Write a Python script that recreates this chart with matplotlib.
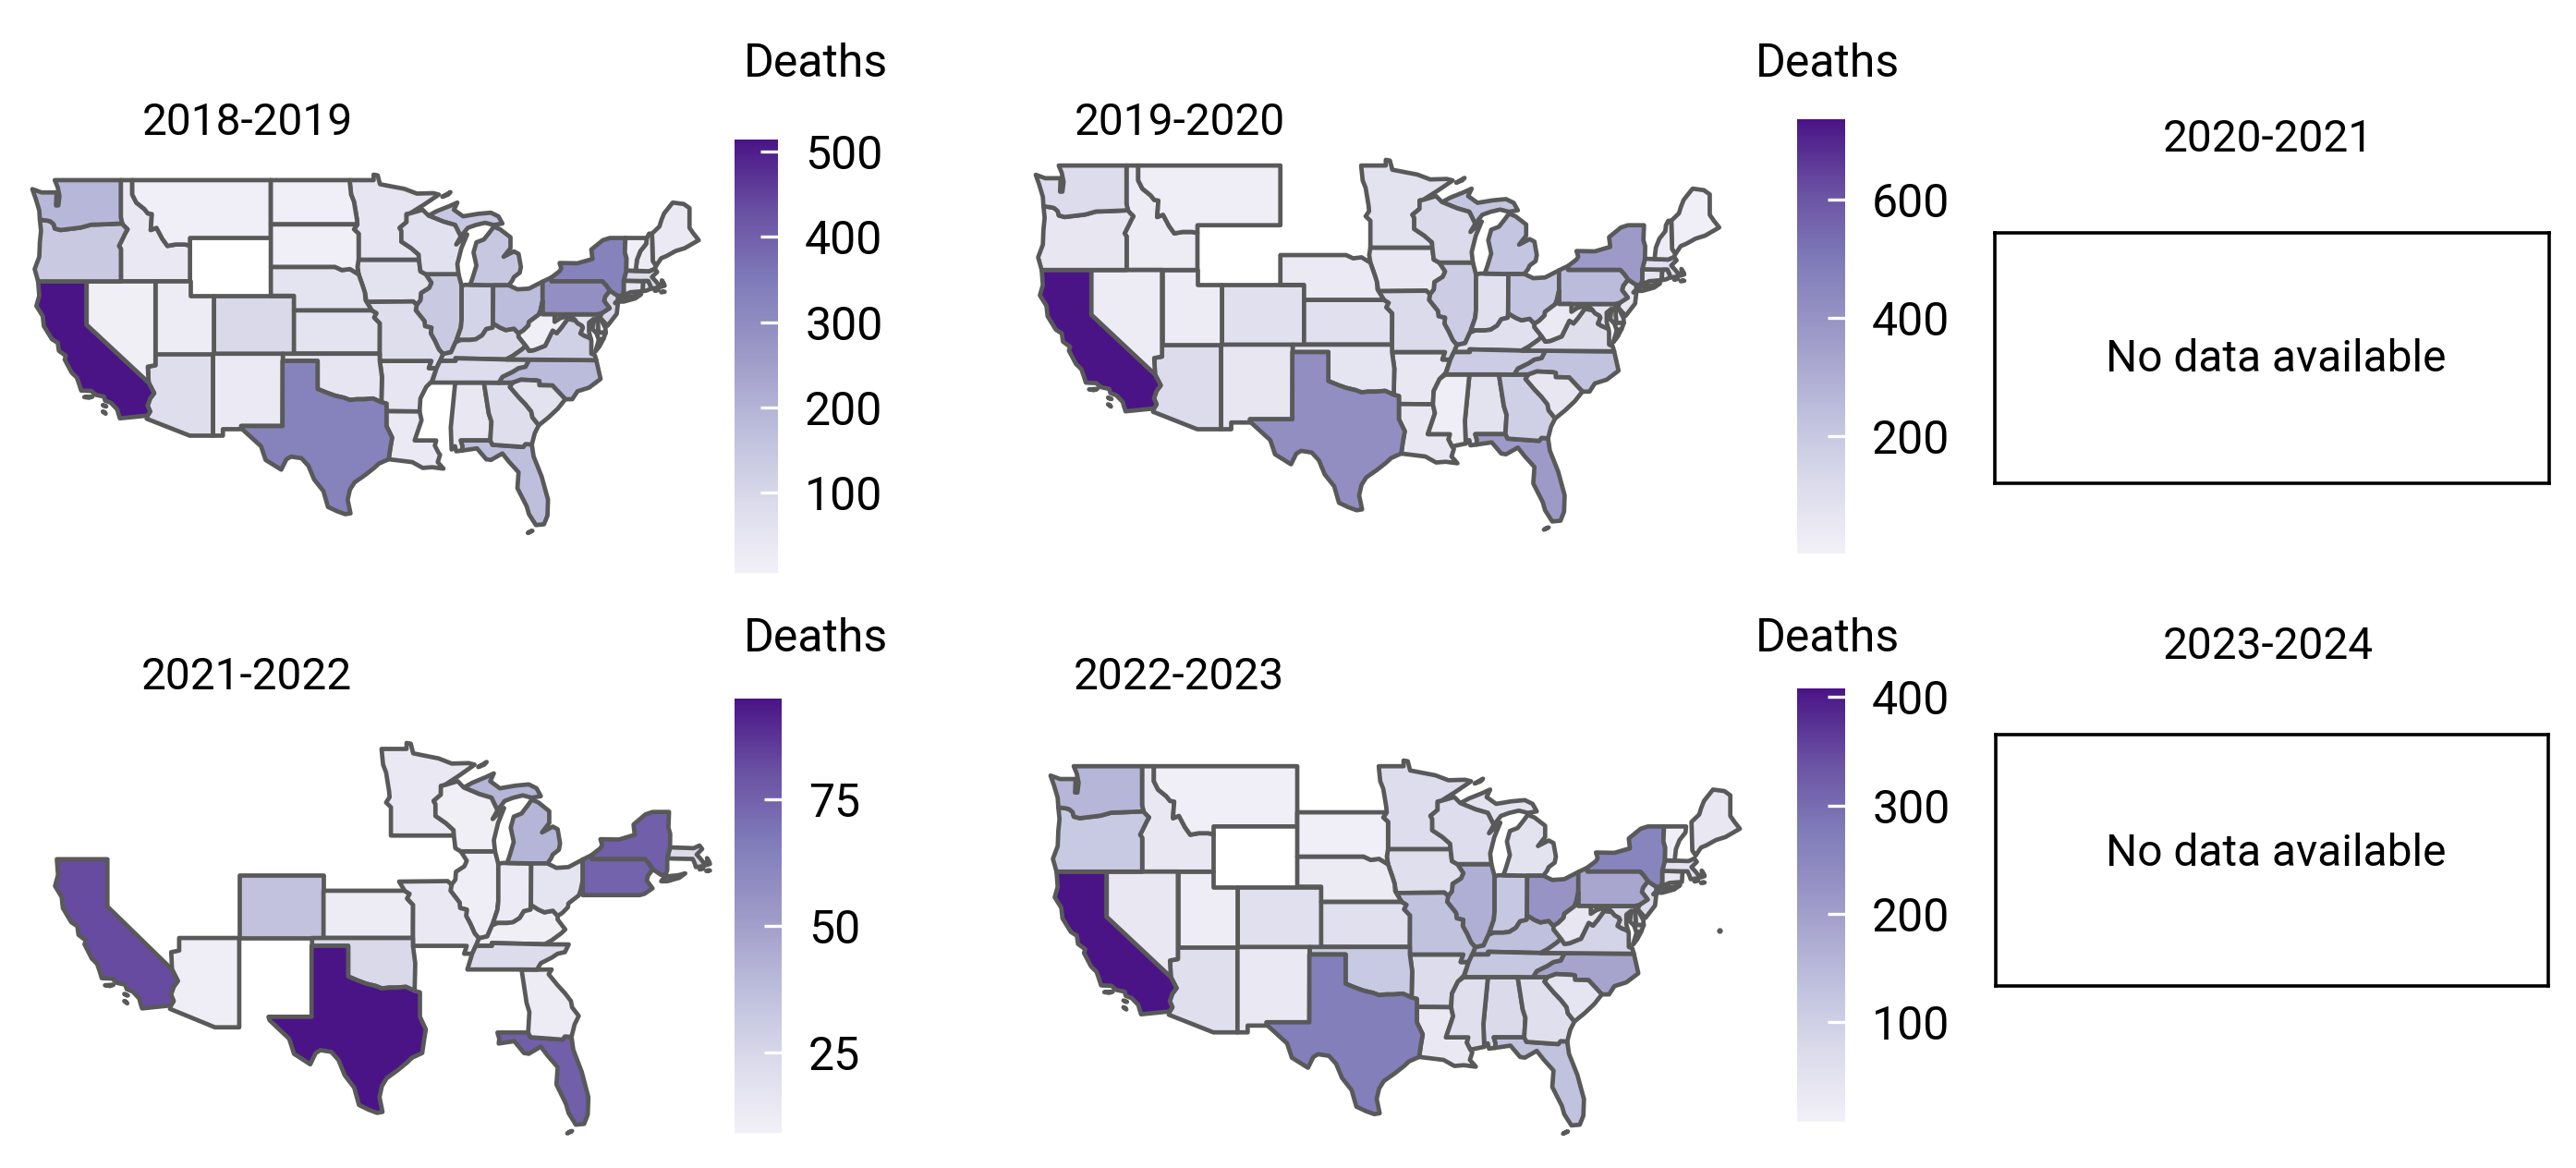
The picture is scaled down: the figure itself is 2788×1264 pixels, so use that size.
"""Heat-related deaths by state, one choropleth per season."""

import matplotlib

matplotlib.use("Agg")
import matplotlib.pyplot as plt
import numpy as np
from matplotlib.cm import ScalarMappable
from matplotlib.colors import LinearSegmentedColormap, Normalize

W, H = 2788, 1264
plt.rcParams["font.family"] = ["Roboto", "DejaVu Sans"]

PURPLES = ["#f2f0f7", "#dadaeb", "#bcbddc", "#9e9ac8", "#807dba", "#6a51a3", "#4a1486"]
EDGE = "#595959"

nan = np.nan
CODES = ["AL", "AZ", "AR", "CA", "CO", "CT", "DE", "FL", "GA", "ID", "IL", "IN", "IA", "KS", "KY", "LA",
         "ME", "MD", "MA", "MI", "MN", "MS", "MO", "MT", "NE", "NV", "NH", "NJ", "NM", "NY", "NC", "ND",
         "OH", "OK", "OR", "PA", "RI", "SC", "SD", "TN", "TX", "UT", "VT", "VA", "WA", "WV", "WI", "WY"]

deaths_2018 = [40, 75, 50, 514, 95, 45, 30, 170, 75, 35, 140, 110, 60, 55, 95, 30,
               30, 60, 90, 145, 50, nan, 75, 12, 55, 10, 25, 100, 30, 330, 178, 12,
               175, 50, 140, 290, 60, 60, 12, 80, 330, 25, 12, 120, 190, 12, 65, nan]
deaths_2019 = [80, 115, 50, 736, 90, 70, 40, 370, 170, 25, 180, 90, 50, 90, 90, 50,
               15, 70, 90, 215, 80, 20, 122, 20, 40, 30, 25, 60, 60, 368, 220, nan,
               215, 70, 60, 250, 60, 60, nan, 180, 420, 30, nan, 100, 115, 40, 122, nan]
deaths_2021 = [nan, 11, nan, 82, 35, nan, nan, 76, 12, nan, 11, 13, nan, 12, 10, nan,
               nan, nan, 23, 41, 14, nan, 14, nan, nan, nan, nan, nan, nan, 76, nan, nan,
               17, 24, nan, 75, nan, nan, nan, 22, 95, nan, nan, nan, nan, nan, 10, nan]
deaths_2022 = [75, 60, 70, 408, 55, 40, 40, 130, 60, 35, 170, 120, 60, 55, 135, 30,
               35, 70, 50, 50, 65, 60, 130, 15, 25, 35, nan, 70, 30, 255, 190, nan,
               225, 115, 115, 185, nan, 45, 15, 120, 270, 20, 15, 90, 155, 40, 65, nan]

TICKS_2018 = [100, 200, 300, 400, 500]
TICKS_2019 = [200, 400, 600]
TICKS_2021 = [25, 50, 75]
TICKS_2022 = [100, 200, 300, 400]

STRAY_POINT = (-68.7, 38.1)

# rough state outlines, lon/lat
SHAPES = {
    "WA": [[(-124.7, 48.38), (-123.9, 48.15), (-123.1, 48.15), (-122.6, 48.15), (-122.65, 47.25), (-122.45, 47.25),
            (-122.35, 47.9), (-122.5, 48.5), (-122.76, 49), (-117.04, 49), (-117.04, 46.42), (-116.92, 46),
            (-119, 45.93), (-119.6, 45.92), (-120.5, 45.72), (-121.2, 45.65), (-122.25, 45.55), (-122.75, 45.65),
            (-122.85, 45.95), (-123.15, 46.15), (-123.4, 46.2), (-124.05, 46.27), (-124.1, 46.9), (-124.4, 47.7)]],
    "OR": [[(-124.05, 46.27), (-123.4, 46.2), (-123.15, 46.15), (-122.85, 45.95), (-122.75, 45.65), (-122.25, 45.55),
            (-121.2, 45.65), (-120.5, 45.72), (-119.6, 45.92), (-119, 45.93), (-116.92, 46), (-116.78, 45.85),
            (-116.46, 45.6), (-116.67, 45.3), (-116.85, 45), (-117.2, 44.45), (-117.03, 44.25), (-117.03, 42),
            (-120, 42), (-124.2, 42), (-124.5, 42.85), (-124.1, 43.7), (-124.05, 44.7), (-123.95, 45.5)]],
    "ID": [[(-117.04, 49), (-116.05, 49), (-116.05, 48), (-115.7, 47.45), (-115, 47), (-114.7, 46.7), (-114.35, 46.65),
            (-114.45, 45.55), (-113.95, 45.7), (-113.45, 44.95), (-113, 44.45), (-112.3, 44.55), (-111.5, 44.55),
            (-111.05, 44.48), (-111.05, 42), (-114.04, 42), (-117.03, 42), (-117.03, 44.25), (-117.2, 44.45),
            (-116.85, 45), (-116.67, 45.3), (-116.46, 45.6), (-116.78, 45.85), (-116.92, 46), (-117.04, 46.42)]],
    "MT": [[(-116.05, 49), (-104.05, 49), (-104.05, 45), (-111.05, 45), (-111.05, 44.48), (-111.5, 44.55),
            (-112.3, 44.55), (-113, 44.45), (-113.45, 44.95), (-113.95, 45.7), (-114.45, 45.55), (-114.35, 46.65),
            (-114.7, 46.7), (-115, 47), (-115.7, 47.45), (-116.05, 48)]],
    "WY": [[(-111.05, 45), (-104.05, 45), (-104.05, 41), (-111.05, 41)]],
    "ND": [[(-104.05, 49), (-97.23, 49), (-97.1, 48), (-96.85, 47.5), (-96.6, 46.3), (-96.56, 45.94), (-104.05, 45.94)]],
    "SD": [[(-104.05, 45.94), (-96.56, 45.94), (-96.85, 45.6), (-96.45, 45.3), (-96.45, 43.5), (-96.55, 43), (-96.45, 42.49),
            (-97.2, 42.85), (-97.9, 42.78), (-98.5, 43), (-104.05, 43)]],
    "NE": [[(-104.05, 43), (-98.5, 43), (-97.9, 42.78), (-97.2, 42.85), (-96.45, 42.49), (-96.1, 41.7), (-95.9, 41.2),
            (-95.85, 40.7), (-95.31, 40), (-102.05, 40), (-102.05, 41), (-104.05, 41)]],
    "CO": [[(-109.05, 41), (-102.05, 41), (-102.05, 37), (-109.05, 37)]],
    "UT": [[(-114.04, 42), (-111.05, 42), (-111.05, 41), (-109.05, 41), (-109.05, 37), (-114.04, 37)]],
    "NV": [[(-120, 42), (-114.04, 42), (-114.04, 36.2), (-114.7, 36.1), (-114.63, 35), (-120, 39)]],
    "CA": [[(-124.2, 42), (-120, 42), (-120, 39), (-114.63, 35), (-114.15, 34.27), (-114.5, 33.9), (-114.72, 33.4),
            (-114.5, 33), (-114.72, 32.72), (-117.12, 32.53), (-117.25, 32.85), (-117.35, 33.15), (-117.9, 33.6),
            (-118.4, 33.75), (-118.5, 34.03), (-119.2, 34.15), (-119.6, 34.42), (-120.47, 34.45), (-120.65, 34.9),
            (-120.85, 35.35), (-121.3, 35.7), (-121.9, 36.6), (-121.8, 36.85), (-122.4, 37.2), (-122.5, 37.75),
            (-123, 38), (-123.7, 38.9), (-123.8, 39.6), (-124.35, 40.3), (-124.1, 41)],
           [(-120.2, 34.0), (-119.5, 34.03), (-119.8, 33.95)], [(-118.6, 33.45), (-118.3, 33.35), (-118.45, 33.38)],
           [(-118.6, 33.0), (-118.35, 32.85), (-118.45, 32.95)]],
    "AZ": [[(-114.04, 37), (-109.05, 37), (-109.05, 31.33), (-111.07, 31.33), (-114.8, 32.5), (-114.72, 32.72),
            (-114.5, 33), (-114.72, 33.4), (-114.5, 33.9), (-114.15, 34.27), (-114.63, 35), (-114.7, 36.1), (-114.04, 36.2)]],
    "NM": [[(-109.05, 37), (-103, 37), (-103.04, 32), (-106.62, 32), (-106.53, 31.78), (-108.2, 31.78), (-108.2, 31.33),
            (-109.05, 31.33)]],
    "OK": [[(-103, 37), (-94.62, 37), (-94.62, 36.5), (-94.43, 35.4), (-94.48, 33.64), (-95.2, 33.9), (-96, 33.85),
            (-96.6, 33.85), (-97.2, 33.8), (-97.7, 33.95), (-98.5, 34.1), (-99.2, 34.3), (-100, 34.56), (-100, 36.5), (-103, 36.5)]],
    "TX": [[(-103.04, 36.5), (-100, 36.5), (-100, 34.56), (-99.2, 34.3), (-98.5, 34.1), (-97.7, 33.95), (-97.2, 33.8),
            (-96.6, 33.85), (-96, 33.85), (-95.2, 33.9), (-94.48, 33.64), (-94.04, 33.55), (-94.04, 33.02), (-94.04, 32),
            (-93.55, 31.2), (-93.7, 30.5), (-93.85, 29.7), (-94.7, 29.4), (-95.1, 29.1), (-95.9, 28.6), (-96.8, 28.1),
            (-97.2, 27.6), (-97.4, 26.9), (-97.15, 25.96), (-97.6, 25.9), (-98.3, 26.1), (-99.1, 26.4), (-99.5, 27.5),
            (-100.3, 28.3), (-100.8, 29.25), (-101.4, 29.77), (-102.3, 29.88), (-102.7, 29.7), (-103.15, 28.98),
            (-104.5, 29.65), (-104.9, 30.6), (-106.53, 31.78), (-106.62, 32), (-103.04, 32)]],
    "KS": [[(-102.05, 40), (-95.31, 40), (-94.9, 39.8), (-95.1, 39.5), (-94.61, 39.1), (-94.62, 37), (-102.05, 37)]],
    "MN": [[(-97.23, 49), (-95.15, 49), (-95.15, 49.38), (-94.8, 49.33), (-94.6, 48.72), (-93.5, 48.55), (-92.5, 48.4),
            (-91.4, 48.07), (-90, 48.1), (-89.5, 48), (-90.8, 47.3), (-92, 46.7), (-92.3, 46.65), (-92.3, 46.1),
            (-92.9, 45.7), (-92.75, 45.5), (-92.75, 44.75), (-91.9, 44.3), (-91.25, 43.85), (-91.22, 43.5), (-96.45, 43.5),
            (-96.45, 45.3), (-96.85, 45.6), (-96.56, 45.94), (-96.6, 46.3), (-96.85, 47.5), (-97.1, 48)]],
    "IA": [[(-96.45, 43.5), (-91.22, 43.5), (-91.1, 42.7), (-90.65, 42.5), (-90.15, 41.9), (-90.35, 41.55), (-91.05, 41.2),
            (-91.1, 40.7), (-91.42, 40.38), (-91.73, 40.61), (-95.77, 40.58), (-95.9, 41.2), (-96.1, 41.7), (-96.45, 42.49),
            (-96.55, 43)]],
    "MO": [[(-95.77, 40.58), (-91.73, 40.61), (-91.42, 40.38), (-91.5, 40), (-90.75, 39.25), (-90.7, 38.9), (-90.15, 38.8),
            (-90.2, 38.4), (-89.85, 37.9), (-89.5, 37.3), (-89.15, 36.98), (-89.4, 36.5), (-89.7, 36), (-90.37, 36),
            (-90.15, 36.5), (-94.62, 36.5), (-94.62, 37), (-94.61, 39.1), (-95.1, 39.5), (-94.9, 39.8), (-95.31, 40)]],
    "AR": [[(-94.62, 36.5), (-90.15, 36.5), (-90.37, 36), (-89.7, 36), (-90.1, 35.1), (-90.6, 34.7), (-91.1, 33.9),
            (-91.17, 33), (-94.04, 33.02), (-94.04, 33.55), (-94.48, 33.64), (-94.43, 35.4)]],
    "LA": [[(-94.04, 33.02), (-91.17, 33), (-91, 32.4), (-91.6, 31), (-89.73, 31), (-89.85, 30.65), (-89.55, 30.18),
            (-89.4, 30), (-89.6, 29.5), (-89.1, 29.05), (-90.1, 29.15), (-90.9, 29.1), (-91.8, 29.5), (-92.3, 29.55),
            (-93.85, 29.7), (-93.7, 30.5), (-93.55, 31.2), (-94.04, 32)]],
    "MS": [[(-90.1, 35), (-88.2, 35), (-88.1, 34.9), (-88.47, 31.9), (-88.4, 30.37), (-89.55, 30.18), (-89.85, 30.65),
            (-89.73, 31), (-91.6, 31), (-91, 32.4), (-91.17, 33), (-91.1, 33.9), (-90.6, 34.7)]],
    "AL": [[(-88.2, 35), (-85.6, 35), (-85.18, 32.87), (-84.95, 32.3), (-85.05, 31), (-87.6, 31), (-87.45, 30.6),
            (-87.5, 30.3), (-88, 30.25), (-88.1, 30.6), (-88.4, 30.37), (-88.47, 31.9), (-88.1, 34.9)]],
    "TN": [[(-90.1, 35), (-89.7, 36), (-89.4, 36.5), (-88.05, 36.5), (-88.07, 36.68), (-83.68, 36.6), (-81.68, 36.59),
            (-82, 36.1), (-82.6, 36), (-83.1, 35.75), (-84, 35.4), (-84.32, 34.99), (-85.6, 35), (-88.2, 35)]],
    "KY": [[(-89.15, 36.98), (-89.4, 36.5), (-88.05, 36.5), (-88.07, 36.68), (-83.68, 36.6), (-83.1, 36.85), (-82.3, 37.3),
            (-81.97, 37.54), (-82.6, 38.17), (-82.6, 38.4), (-83, 38.73), (-83.7, 38.63), (-84.2, 38.8), (-84.82, 39.1),
            (-84.85, 38.8), (-85.4, 38.7), (-85.75, 38.27), (-86.3, 38), (-86.8, 37.95), (-87.6, 37.95), (-88.05, 37.8),
            (-88.45, 37.1)]],
    "IL": [[(-90.65, 42.5), (-87.8, 42.5), (-87.55, 41.75), (-87.53, 41.7), (-87.53, 39.35), (-87.6, 38.8), (-87.95, 38),
            (-88.05, 37.8), (-88.45, 37.1), (-89.15, 36.98), (-89.5, 37.3), (-89.85, 37.9), (-90.2, 38.4), (-90.15, 38.8),
            (-90.7, 38.9), (-90.75, 39.25), (-91.5, 40), (-91.42, 40.38), (-91.1, 40.7), (-91.05, 41.2), (-90.35, 41.55),
            (-90.15, 41.9)]],
    "WI": [[(-92.3, 46.65), (-92, 46.7), (-90.9, 46.95), (-90.4, 46.55), (-89.1, 46.13), (-88.1, 45.9), (-87.6, 45.1),
            (-88, 44.55), (-87.05, 45.25), (-87.55, 44.3), (-87.9, 43.2), (-87.8, 42.5), (-90.65, 42.5), (-91.1, 42.7),
            (-91.22, 43.5), (-91.25, 43.85), (-91.9, 44.3), (-92.75, 44.75), (-92.75, 45.5), (-92.9, 45.7), (-92.3, 46.1)]],
    "MI": [[(-86.8, 41.76), (-84.8, 41.73), (-83.45, 41.73), (-83.15, 42.05), (-83, 42.3), (-82.5, 42.6), (-82.4, 43),
            (-82.6, 43.9), (-83, 44.07), (-83.9, 43.7), (-83.3, 44.3), (-83.3, 45.05), (-84.2, 45.6), (-84.75, 45.78),
            (-85.1, 45.4), (-85.6, 44.9), (-86.25, 44.7), (-86.5, 44), (-86.25, 43.1), (-86.6, 42.2)],
           [(-90.4, 46.55), (-89.1, 46.13), (-88.1, 45.9), (-87.6, 45.1), (-87, 45.7), (-86.3, 45.9), (-85.5, 46.05),
            (-84.75, 45.9), (-84, 46), (-84.35, 46.5), (-85, 46.75), (-86.1, 46.67), (-87.4, 46.5), (-88.2, 46.95),
            (-87.9, 47.45), (-88.6, 47.2), (-89.7, 46.85)],
           [(-89.2, 47.85), (-88.5, 48.17), (-88.7, 48.0)]],
    "IN": [[(-87.53, 41.7), (-87.2, 41.76), (-86.8, 41.76), (-84.8, 41.73), (-84.82, 39.1), (-84.85, 38.8), (-85.4, 38.7),
            (-85.75, 38.27), (-86.3, 38), (-86.8, 37.95), (-87.6, 37.95), (-87.95, 38), (-87.6, 38.8), (-87.53, 39.35)]],
    "OH": [[(-84.8, 41.73), (-83.45, 41.73), (-82.7, 41.45), (-81.7, 41.5), (-80.52, 41.98), (-80.52, 40.64), (-80.7, 40),
            (-80.85, 39.7), (-81.7, 39.2), (-81.75, 38.95), (-82.2, 38.6), (-82.6, 38.4), (-83, 38.73), (-83.7, 38.63),
            (-84.2, 38.8), (-84.82, 39.1)]],
    "PA": [[(-80.52, 41.98), (-79.76, 42.27), (-79.76, 42), (-75.35, 42), (-75.05, 41.75), (-74.7, 41.36), (-75.1, 40.95),
            (-75.2, 40.65), (-74.72, 40.15), (-75.4, 39.8), (-75.79, 39.72), (-80.52, 39.72), (-80.52, 40.64)]],
    "NY": [[(-79.76, 42.27), (-79.05, 42.7), (-78.9, 42.9), (-79.05, 43.27), (-77.5, 43.25), (-76.2, 43.55), (-76.3, 44.2),
            (-75.3, 44.85), (-74.7, 45), (-73.35, 45), (-73.4, 44), (-73.25, 43.6), (-73.27, 42.75), (-73.5, 42.05),
            (-73.5, 41.3), (-73.65, 41), (-74, 41), (-74.7, 41.36), (-75.05, 41.75), (-75.35, 42), (-79.76, 42)],
           [(-74, 40.6), (-73.7, 40.9), (-72.6, 40.98), (-72, 41.1), (-72.5, 40.82), (-73.5, 40.6)]],
    "VT": [[(-73.35, 45), (-71.5, 45), (-71.55, 44.6), (-72.05, 44.1), (-72.35, 43.5), (-72.46, 42.73), (-73.27, 42.75),
            (-73.25, 43.6), (-73.4, 44)]],
    "NH": [[(-71.5, 45), (-71.3, 45.3), (-71.05, 45.3), (-70.98, 43.4), (-70.7, 43.07), (-70.82, 42.87), (-71.3, 42.7),
            (-72.46, 42.73), (-72.35, 43.5), (-72.05, 44.1), (-71.55, 44.6)]],
    "ME": [[(-71.05, 45.3), (-70.4, 45.8), (-70.25, 46.2), (-70, 46.7), (-69.25, 47.45), (-68.3, 47.35), (-67.8, 47.07),
            (-67.8, 45.7), (-67.45, 45.3), (-67, 44.85), (-68.2, 44.3), (-69, 44.1), (-69.8, 43.75), (-70.25, 43.6),
            (-70.7, 43.07), (-70.98, 43.4)]],
    "MA": [[(-73.5, 42.05), (-73.27, 42.75), (-72.46, 42.73), (-71.3, 42.7), (-70.82, 42.87), (-70.6, 42.65), (-71.05, 42.3),
            (-70.65, 41.95), (-70.5, 41.78), (-70, 41.8), (-70.2, 42.07), (-69.95, 41.7), (-70.6, 41.55), (-71.12, 41.5),
            (-71.2, 41.7), (-71.38, 42.02), (-71.8, 42.02)],
           [(-70.8, 41.35), (-70.5, 41.4), (-70.6, 41.45)], [(-70.25, 41.25), (-69.95, 41.28), (-70.1, 41.3)]],
    "RI": [[(-71.8, 42.02), (-71.38, 42.02), (-71.2, 41.7), (-71.12, 41.5), (-71.5, 41.37), (-71.85, 41.32)]],
    "CT": [[(-73.5, 42.05), (-71.8, 42.02), (-71.85, 41.32), (-72.9, 41.25), (-73.65, 41), (-73.5, 41.3)]],
    "NJ": [[(-74.7, 41.36), (-74, 41), (-74, 40.7), (-74.25, 40.5), (-74, 40.45), (-74.1, 39.75), (-74.9, 38.93),
            (-75.55, 39.5), (-75.4, 39.8), (-74.72, 40.15), (-75.2, 40.65), (-75.1, 40.95)]],
    "DE": [[(-75.79, 39.72), (-75.4, 39.8), (-75.55, 39.5), (-75.08, 38.78), (-75.05, 38.45), (-75.7, 38.46)]],
    "MD": [[(-79.48, 39.72), (-75.79, 39.72), (-75.7, 38.46), (-75.05, 38.45), (-75.25, 38.03), (-75.65, 37.95),
            (-75.85, 38.4), (-76.2, 38.7), (-76.1, 39.4), (-76.5, 39.15), (-76.5, 38.5), (-76.35, 38.05), (-76.95, 38.25),
            (-77.25, 38.4), (-77.04, 38.8), (-77.12, 38.93), (-77.5, 39.1), (-77.72, 39.32), (-78.2, 39.68), (-78.4, 39.6),
            (-79, 39.45), (-79.48, 39.2)]],
    "WV": [[(-80.52, 40.64), (-80.52, 39.72), (-79.48, 39.72), (-79.48, 39.2), (-79, 39.45), (-78.4, 39.6), (-78.2, 39.68),
            (-77.72, 39.32), (-78.35, 39.4), (-78.9, 38.8), (-79.3, 38.42), (-79.65, 38.6), (-80.3, 37.55), (-81.25, 37.25),
            (-81.68, 37.2), (-81.97, 37.54), (-82.6, 38.17), (-82.6, 38.4), (-82.2, 38.6), (-81.75, 38.95), (-81.7, 39.2),
            (-80.85, 39.7), (-80.7, 40)]],
    "VA": [[(-83.68, 36.6), (-81.68, 36.59), (-75.87, 36.55), (-76, 36.9), (-76.3, 37), (-76.3, 37.9), (-76.35, 38.05),
            (-76.95, 38.25), (-77.25, 38.4), (-77.04, 38.8), (-77.12, 38.93), (-77.5, 39.1), (-77.72, 39.32), (-78.35, 39.4),
            (-78.9, 38.8), (-79.3, 38.42), (-79.65, 38.6), (-80.3, 37.55), (-81.25, 37.25), (-81.68, 37.2), (-81.97, 37.54),
            (-82.3, 37.3), (-83.1, 36.85)],
           [(-75.25, 38.03), (-75.65, 37.95), (-75.95, 37.15), (-75.6, 37.5)]],
    "NC": [[(-84.32, 34.99), (-84, 35.4), (-83.1, 35.75), (-82.6, 36), (-82, 36.1), (-81.68, 36.59), (-75.87, 36.55),
            (-75.5, 35.25), (-76.5, 34.65), (-77.5, 34.4), (-77.95, 33.85), (-78.55, 33.85), (-79.67, 34.8), (-80.8, 34.82),
            (-80.8, 35.1), (-81.05, 35.15), (-82.4, 35.2), (-83.1, 35)]],
    "SC": [[(-83.1, 35), (-82.4, 35.2), (-81.05, 35.15), (-80.8, 35.1), (-80.8, 34.82), (-79.67, 34.8), (-78.55, 33.85),
            (-79.2, 33.2), (-80, 32.6), (-80.85, 32.05), (-81.4, 32.6), (-81.5, 33), (-82, 33.5), (-82.6, 34), (-83.35, 34.7)]],
    "GA": [[(-85.6, 35), (-84.32, 34.99), (-83.1, 35), (-83.35, 34.7), (-82.6, 34), (-82, 33.5), (-81.5, 33), (-81.4, 32.6),
            (-80.85, 32.05), (-81.2, 31.5), (-81.45, 30.72), (-82, 30.75), (-82.2, 30.55), (-84.86, 30.7), (-85.05, 31),
            (-84.95, 32.3), (-85.18, 32.87)]],
    "FL": [[(-87.6, 31), (-85.05, 31), (-84.86, 30.7), (-82.2, 30.55), (-82, 30.75), (-81.45, 30.72), (-81.3, 29.9),
            (-80.6, 28.5), (-80.05, 26.9), (-80.1, 25.8), (-80.4, 25.2), (-81.1, 25.15), (-81.7, 25.9), (-81.9, 26.45),
            (-82.7, 27.7), (-82.6, 28.8), (-83.4, 29.5), (-84, 30.1), (-85, 29.65), (-85.4, 29.7), (-86.2, 30.45),
            (-87.5, 30.3), (-87.45, 30.6)],
           [(-81.8, 24.6), (-81.4, 24.75), (-81.6, 24.7)]],
}


def fx(px):
    return px / W


def fy(py):
    return 1 - py / H


def map_axes(fig, x0, sx, y0, sy):
    # x0/y0: pixel of lon -124.7 and lat 49.38, sx/sy: pixels per degree
    lon0, lon1, lat0, lat1 = -126.0, -66.0, 24.0, 50.0
    left = x0 + (lon0 + 124.7) * sx
    right = x0 + (lon1 + 124.7) * sx
    top = y0 + (49.38 - lat1) * sy
    bottom = y0 + (49.38 - lat0) * sy
    ax = fig.add_axes([fx(left), fy(bottom), (right - left) / W, (bottom - top) / H])
    ax.set_xlim(lon0, lon1)
    ax.set_ylim(lat0, lat1)
    ax.set_axis_off()
    return ax


def draw_map(ax, values, cmap, norm):
    for code, value in zip(CODES, values):
        if np.isnan(value):
            continue
        for ring in SHAPES[code]:
            lons, lats = zip(*ring)
            ax.fill(lons, lats, facecolor=cmap(norm(value)), edgecolor=EDGE, linewidth=3.4, joinstyle="round")


def draw_colorbar(fig, box, cmap, norm, ticks, tick_px):
    left, right, top, bottom = box
    cax = fig.add_axes([fx(left), fy(bottom), (right - left) / W, (bottom - top) / H])
    cb = fig.colorbar(ScalarMappable(norm=norm, cmap=cmap), cax=cax, ticks=ticks)
    cb.outline.set_visible(False)
    cb.ax.tick_params(direction="in", length=tick_px * 0.72, width=2.4, color="white", pad=21, labelsize=36, labelcolor="black")
    return cb


def no_data_panel(fig, box, text_y):
    left, right, top, bottom = box
    ax = fig.add_axes([fx(left), fy(bottom), (right - left) / W, (bottom - top) / H])
    ax.set_xticks([])
    ax.set_yticks([])
    for spine in ax.spines.values():
        spine.set_linewidth(2.6)
    fig.text(fx((left + right) / 2 + 4), fy(text_y), "No data available", ha="center", va="center", fontsize=34.5)


def main():
    cmap = LinearSegmentedColormap.from_list("purples7", PURPLES)
    fig = plt.figure(figsize=(W / 100, H / 100), dpi=100)

    panels = [
        ("2018-2019", deaths_2018, TICKS_2018, (6, 514), (35, 12.5, 189, 15.65), (795, 842, 151, 620), 268, 133, 805, 69),
        ("2019-2020", deaths_2019, TICKS_2019, (2, 736), (1121, 12.82, 173, 16.15), (1945, 1997, 129, 599), 1277, 133, 1900, 69),
        ("2021-2022", deaths_2021, TICKS_2021, (9, 95), (55, 13.03, 804, 17.05), (795, 846, 756, 1226), 267, 733, 805, 691),
        ("2022-2023", deaths_2022, TICKS_2022, (8, 408), (1137, 12.93, 823, 16.3), (1945, 1997, 745, 1214), 1276, 733, 1900, 691),
    ]
    for title, values, ticks, (vmin, vmax), geo, bar, tx, ty, dx, dy in panels:
        norm = Normalize(vmin, vmax)
        ax = map_axes(fig, *geo)
        draw_map(ax, values, cmap, norm)
        if title == "2022-2023":
            ax.plot([STRAY_POINT[0]], [STRAY_POINT[1]], "o", color=EDGE, markersize=3.5)
        draw_colorbar(fig, bar, cmap, norm, ticks, 19)
        fig.text(fx(tx), fy(ty), title, ha="center", va="center", fontsize=34.5)
        fig.text(fx(dx), fy(dy), "Deaths", ha="left", va="center", fontsize=36)

    no_data_panel(fig, (2159, 2759, 252, 523), 389)
    no_data_panel(fig, (2160, 2758, 795, 1067), 924)
    fig.text(fx(2455), fy(151), "2020-2021", ha="center", va="center", fontsize=34.5)
    fig.text(fx(2455), fy(700), "2023-2024", ha="center", va="center", fontsize=34.5)

    fig.savefig("out.png", dpi=100)
    plt.close(fig)


if __name__ == "__main__":
    main()
